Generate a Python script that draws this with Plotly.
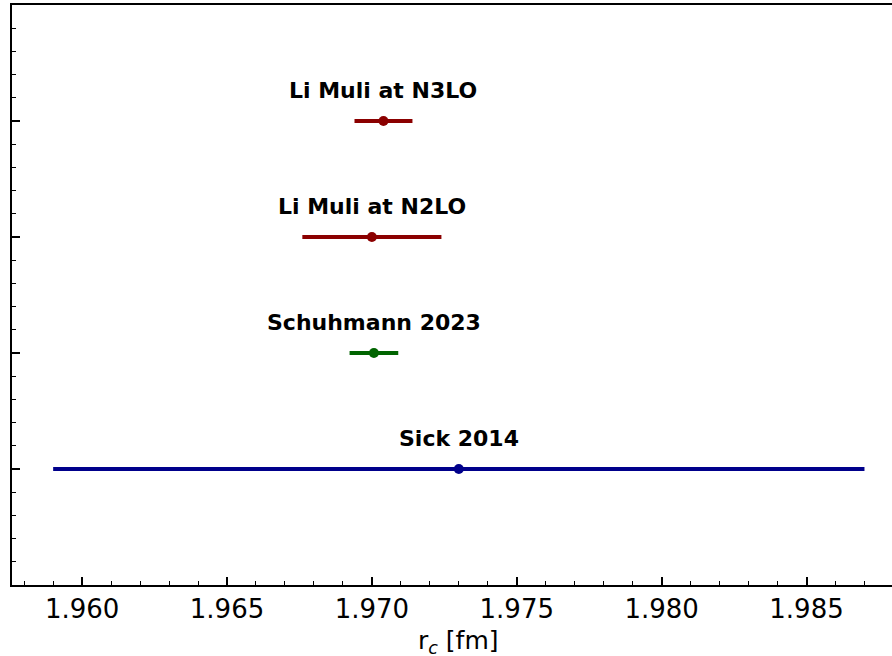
import plotly.graph_objects as go

labels = ["Sick 2014", "Schuhmann 2023", "Li Muli at N2LO", "Li Muli at N3LO"]
values = [1.973, 1.97007, 1.9700, 1.9704]
errors = [0.014, 0.00084, 0.0024, 0.0010]
colors = ["#00008B", "#006400", "#8B0000", "#8B0000"]
positions = [0, 1, 2, 3]

FONT = "DejaVu Sans"

fig = go.Figure()
for lab, v, e, c, p in zip(labels, values, errors, colors, positions):
    fig.add_trace(go.Scatter(
        x=[v], y=[p], mode="markers",
        marker=dict(color=c, size=10),
        error_x=dict(type="data", array=[e], color=c, thickness=4, width=0),
        showlegend=False, name=lab,
    ))
    fig.add_annotation(
        x=v, y=p + 0.26, text="<b>%s</b>" % lab, showarrow=False,
        xanchor="center", yanchor="middle",
        font=dict(family=FONT, size=22, color="black"),
    )

fig.add_annotation(
    x=0.507, y=0, xref="paper", yref="paper", yshift=-57,
    text="r<sub><i>c</i></sub> [fm]", showarrow=False,
    xanchor="center", yanchor="middle",
    font=dict(family=FONT, size=25, color="black"),
)

fig.update_xaxes(
    range=[1.95758, 1.98795],
    tick0=1.96, dtick=0.005, tickformat=".3f",
    ticks="inside", ticklen=8, tickwidth=1.5, tickcolor="black",
    minor=dict(dtick=0.001, tick0=1.96, ticks="inside", ticklen=4, tickwidth=1.2, tickcolor="black", showgrid=False),
    showline=True, linewidth=2, linecolor="black", mirror=True,
    showgrid=False, zeroline=False,
    tickfont=dict(family=FONT, size=26, color="black"),
)
fig.update_yaxes(
    range=[-1, 4],
    tickvals=positions, showticklabels=False,
    ticks="inside", ticklen=8, tickwidth=1.5, tickcolor="black",
    minor=dict(dtick=0.2, tick0=0, ticks="inside", ticklen=4, tickwidth=1.2, tickcolor="black", showgrid=False),
    showline=True, linewidth=2, linecolor="black", mirror=False,
    showgrid=False, zeroline=False,
)

fig.update_layout(
    width=892, height=656,
    margin=dict(l=12, r=0, t=5, b=71),
    paper_bgcolor="white", plot_bgcolor="white",
    font=dict(family=FONT, color="black"),
)

fig.write_html("out.html", config={"displayModeBar": False},
               post_script="document.body.style.margin='0';document.body.style.overflow='hidden';")
